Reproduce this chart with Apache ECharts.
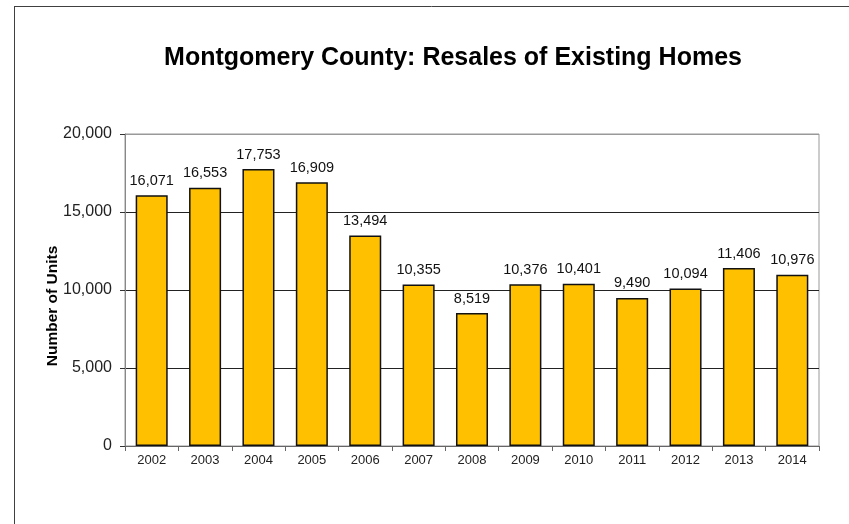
<!DOCTYPE html>
<html>
<head>
<meta charset="utf-8">
<script src="https://cdn.jsdelivr.net/npm/echarts@6/dist/echarts.min.js"></script>
<style>
  html, body { margin: 0; padding: 0; background: #fff; }
  #chart { width: 849px; height: 524px; }
</style>
</head>
<body>
<div id="chart"></div>
<script>
// Annual resales of existing homes, Montgomery County
const years = ['2002','2003','2004','2005','2006','2007','2008','2009','2010','2011','2012','2013','2014'];
const resales = [16071, 16553, 17753, 16909, 13494, 10355, 8519, 10376, 10401, 9490, 10094, 11406, 10976];
const yTicks = [0, 5000, 10000, 15000, 20000];

const chart = echarts.init(document.getElementById('chart'), null, { renderer: 'canvas' });
const fmt = v => v.toLocaleString('en-US');
const FONT = 'Liberation Sans, Arial, sans-serif';

chart.setOption({
  animation: false,
  backgroundColor: '#fff',
  title: {
    text: 'Montgomery County: Resales of Existing Homes',
    left: 448,
    textAlign: 'center',
    top: 41,
    textStyle: { fontFamily: FONT, fontSize: 25, fontWeight: 'bold', color: '#000' }
  },
  graphic: [
    { type: 'line', shape: { x1: 14, y1: 6.5, x2: 849, y2: 6.5 }, style: { stroke: '#404040', lineWidth: 1 } },
    { type: 'line', shape: { x1: 14.5, y1: 6, x2: 14.5, y2: 524 }, style: { stroke: '#404040', lineWidth: 1 } }
  ],
  grid: {
    left: 125, right: 30, top: 134, bottom: 78,
    show: true, borderColor: '#999', borderWidth: 1, backgroundColor: 'transparent'
  },
  xAxis: {
    type: 'category',
    data: years,
    boundaryGap: true,
    axisLine: { lineStyle: { color: '#666' } },
    axisTick: { show: true, interval: 0, length: 5, lineStyle: { color: '#666' } },
    axisLabel: { interval: 0, margin: 8, fontFamily: FONT, fontSize: 13, color: '#222' }
  },
  yAxis: {
    type: 'value',
    min: yTicks[0],
    max: yTicks[yTicks.length - 1],
    interval: yTicks[1] - yTicks[0],
    name: 'Number of Units',
    nameLocation: 'middle',
    nameGap: 64,
    nameMoveOverlap: false,
    nameTextStyle: { fontFamily: FONT, fontSize: 15.5, fontWeight: 'bold', color: '#000', padding: [0, 32, 0, 0] },
    axisLine: { show: true, lineStyle: { color: '#888' } },
    axisTick: { show: true, length: 5, lineStyle: { color: '#333' } },
    axisLabel: { margin: 13, fontFamily: FONT, fontSize: 16, color: '#222', formatter: v => fmt(v) },
    splitLine: { show: true, lineStyle: { color: ['#222', '#222', '#222', '#222', '#999'], width: 1 } }
  },
  series: [{
    type: 'bar',
    data: resales,
    barWidth: '60%',
    itemStyle: { color: '#FFC000', borderColor: '#111', borderWidth: 1.5 },
    label: {
      show: true,
      position: 'top',
      distance: 7,
      fontFamily: FONT,
      fontSize: 14.5,
      color: '#111',
      formatter: p => fmt(p.value)
    }
  }]
});
</script>
</body>
</html>
